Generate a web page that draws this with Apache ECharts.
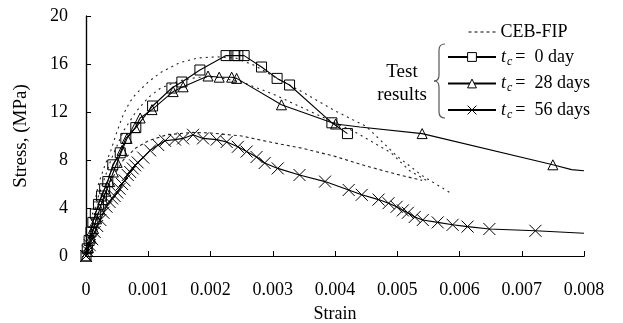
<!DOCTYPE html>
<html>
<head>
<meta charset="utf-8">
<script src="https://cdn.jsdelivr.net/npm/echarts@6/dist/echarts.min.js"></script>
<style>
  html, body { margin: 0; padding: 0; background: #fff; }
  #chart { width: 623px; height: 323px; }
</style>
</head>
<body>
<div id="chart"></div>
<script>
// Strain ticks and stress ticks
const strainTicks = [0, 0.001, 0.002, 0.003, 0.004, 0.005, 0.006, 0.007, 0.008];
const stressTicks = [0, 4, 8, 12, 16, 20];

// Test results [strain, stress (MPa)]
const day0 = [
  [0, 0], [0.00002, 0.6], [0.00005, 1.3], [0.00008, 2.0], [0.00011, 2.8], [0.00015, 3.5],
  [0.0002, 4.3], [0.00025, 5.0], [0.0003, 5.6], [0.00035, 6.2], [0.00043, 7.6], [0.00055, 8.6],
  [0.00064, 9.8], [0.0008, 10.7], [0.00107, 12.5], [0.00138, 14.0], [0.00154, 14.5],
  [0.00183, 15.5], [0.00225, 16.7], [0.00239, 16.7], [0.00244, 16.7], [0.00254, 16.7],
  [0.00282, 15.75], [0.00307, 14.8], [0.00327, 14.25], [0.00395, 11.1], [0.0042, 10.2]
];
const day28 = [
  [0, 0], [0.00004, 0.7], [0.00008, 1.5], [0.00012, 2.3], [0.00017, 3.1], [0.00022, 3.9],
  [0.00027, 4.7], [0.00032, 5.4], [0.00038, 6.2], [0.00044, 7.0], [0.0005, 7.8], [0.00058, 8.8],
  [0.00066, 9.8], [0.00079, 10.7], [0.00087, 11.5], [0.00106, 12.2], [0.0014, 13.7],
  [0.00156, 14.1], [0.00196, 15.0], [0.00214, 14.9], [0.00234, 14.9], [0.00242, 14.8],
  [0.00314, 12.6], [0.00401, 11.0], [0.0054, 10.2], [0.0075, 7.6]
];
const day28Tail = [[0.0044, 10.75], [0.0078, 7.2], [0.008, 7.1]];
const day56 = [
  [0, 0], [0.00003, 0.4], [0.00006, 0.9], [0.0001, 1.4], [0.00014, 2.0], [0.00018, 2.5],
  [0.00023, 3.0], [0.00028, 3.6], [0.00033, 4.1], [0.00038, 4.5], [0.00042, 4.8], [0.00046, 5.0],
  [0.0005, 5.3], [0.00054, 5.6], [0.00058, 6.0], [0.00062, 6.3], [0.00067, 6.75], [0.00071, 7.0],
  [0.00075, 7.3], [0.00079, 7.55], [0.00083, 7.8], [0.00092, 8.2], [0.00103, 8.8], [0.00116, 9.25],
  [0.00127, 9.6], [0.00143, 9.7], [0.00156, 9.8], [0.00172, 10.1], [0.00188, 9.8], [0.0021, 9.7],
  [0.00226, 9.5], [0.00244, 9.1], [0.00258, 8.7], [0.00274, 8.25], [0.00287, 7.75], [0.00308, 7.3],
  [0.00343, 6.75], [0.00384, 6.2], [0.00422, 5.5], [0.00443, 5.1], [0.0047, 4.7], [0.00486, 4.4],
  [0.00499, 4.1], [0.00509, 3.8], [0.00517, 3.6], [0.00528, 3.25], [0.00541, 3.0], [0.00565, 2.8],
  [0.00589, 2.6], [0.00613, 2.45], [0.00648, 2.25], [0.00722, 2.1]
];
const day56Tail = [[0.008, 1.9]];

// CEB-FIP model curves
const cebDay0 = [
  [0, 0], [0.0001, 3.4], [0.0002, 6.0], [0.0003, 7.5], [0.0004, 8.8], [0.0005, 10.4],
  [0.0006, 11.8], [0.0007, 12.8], [0.0008, 13.5], [0.001, 14.5], [0.0012, 15.3], [0.0015, 16.1],
  [0.0018, 16.5], [0.0021, 16.6], [0.0024, 16.5], [0.0027, 15.9], [0.003, 15.0], [0.0035, 13.6],
  [0.004, 12.1], [0.0045, 10.8], [0.005, 8.3], [0.0054, 6.7], [0.00584, 5.3]
];
const cebDay28 = [
  [0, 0], [0.0001, 2.8], [0.0002, 5.0], [0.0004, 8.0], [0.0006, 10.4], [0.0008, 12.0],
  [0.001, 13.2], [0.0012, 14.0], [0.0015, 14.6], [0.0018, 14.9], [0.0021, 14.9], [0.0025, 14.5],
  [0.003, 13.5], [0.0035, 12.3], [0.004, 11.1], [0.0043, 10.4], [0.0049, 8.6], [0.0052, 7.1],
  [0.0055, 6.2]
];
const cebDay56 = [
  [0, 0], [0.0001, 2.0], [0.0002, 3.7], [0.0004, 6.3], [0.0006, 8.0], [0.0008, 9.0],
  [0.001, 9.6], [0.0013, 10.1], [0.0017, 10.3], [0.002, 10.25], [0.0025, 10.0], [0.003, 9.45],
  [0.0035, 8.95], [0.004, 8.3], [0.0045, 7.5], [0.005, 6.8], [0.0054, 6.3]
];

const serif = '"Liberation Serif", "Times New Roman", serif';
const crossPath = 'path://M0,0L10,10M10,0L0,10';
const hollow = { color: 'rgba(0,0,0,0)', borderColor: '#000', borderWidth: 1 };

function marked(points, tail) {
  const all = points.map((p) => ({ value: p }))
    .concat((tail || []).map((p) => ({ value: p, symbol: 'none' })));
  all.sort((a, b) => a.value[0] - b.value[0]);
  return all;
}

const chart = echarts.init(document.getElementById('chart'), null, { renderer: 'canvas' });

const testSeries = (name, data, symbol, size) => ({
  type: 'line',
  name: name,
  data: data,
  symbol: symbol,
  symbolSize: size,
  showAllSymbol: true,
  animation: false,
  lineStyle: { color: '#000', width: 1.1 },
  itemStyle: hollow,
  z: 3,
});

const cebSeries = (data, dash) => ({
  type: 'line',
  name: 'CEB-FIP',
  data: data,
  symbol: 'none',
  animation: false,
  color: '#222',
  lineStyle: { color: '#222', width: 1.1, type: dash },
  z: 2,
});

const legendRich = {
  i: { fontFamily: serif, fontStyle: 'italic', fontSize: 18, color: '#000' },
  s: { fontFamily: serif, fontStyle: 'italic', fontSize: 12, color: '#000', padding: [9, 3, 0, 1] },
  n: { fontFamily: serif, fontSize: 18, color: '#000' },
};

const braceStyle = { fill: 'none', stroke: '#555', lineWidth: 1.2 };

chart.setOption({
  animation: false,
  backgroundColor: '#fff',
  grid: { left: 86, right: 39, top: 16, bottom: 67, outerBoundsMode: 'none', containLabel: false },
  xAxis: [
    {
      type: 'value', min: 0, max: 0.008, interval: 0.001,
      name: 'Strain', nameLocation: 'middle', nameGap: 49,
      nameTextStyle: { fontFamily: serif, fontSize: 18, color: '#000' },
      axisLine: { show: true, lineStyle: { color: '#000', width: 1.2 } },
      axisTick: { show: true, inside: true, length: 5, lineStyle: { color: '#000' } },
      axisLabel: {
        margin: 25, fontFamily: serif, fontSize: 18, color: '#000',
        formatter: (v) => {
          const t = strainTicks.find((k) => Math.abs(k - v) < 1e-9);
          return String(t === undefined ? v : t);
        },
      },
      splitLine: { show: false },
    },
    {
      type: 'value', position: 'top', min: 0, max: 0.008,
      axisLine: { show: true, lineStyle: { color: '#000', width: 1.2 } },
      axisTick: { show: false }, axisLabel: { show: false }, splitLine: { show: false },
    },
  ],
  yAxis: [
    {
      type: 'value', min: stressTicks[0], max: stressTicks[stressTicks.length - 1], interval: 4,
      name: 'Stress, (MPa)', nameLocation: 'middle', nameGap: 55,
      nameTextStyle: { fontFamily: serif, fontSize: 19, color: '#000' },
      axisLine: { show: true, lineStyle: { color: '#000', width: 1.2 } },
      axisTick: { show: true, inside: true, length: 5, lineStyle: { color: '#000' } },
      axisLabel: { margin: 18, fontFamily: serif, fontSize: 18, color: '#000' },
      splitLine: { show: false },
    },
    {
      type: 'value', position: 'right', min: 0, max: 20,
      axisLine: { show: true, lineStyle: { color: '#000', width: 1.2 } },
      axisTick: { show: false }, axisLabel: { show: false }, splitLine: { show: false },
    },
  ],
  legend: [
    {
      data: ['CEB-FIP'],
      left: 463, top: 18, orient: 'vertical',
      itemWidth: 27, itemHeight: 10, itemGap: 6,
      itemStyle: { color: 'rgba(0,0,0,0)', borderWidth: 0, opacity: 0 },
      lineStyle: { color: '#000', type: [3, 3], width: 1 },
      textStyle: { fontFamily: serif, fontSize: 18, color: '#000' },
      z: 6,
    },
    {
      data: ['0 day', '28 days', '56 days'],
      left: 442, top: 43, orient: 'vertical',
      itemWidth: 48, itemHeight: 11, itemGap: 7,
      itemStyle: { color: '#fff', borderColor: '#000', borderWidth: 1 },
      textStyle: { rich: legendRich },
      formatter: (name) => '{i|t}{s|c}{n|=  ' + name + '}',
      z: 6,
    },
  ],
  graphic: [
    { type: 'rect', z: 5, shape: { x: 436, y: 8, width: 141, height: 14 }, style: { fill: '#fff' } },
    { type: 'rect', z: 5, shape: { x: 579, y: 39, width: 12, height: 81 }, style: { fill: '#fff' } },
    { type: 'bezierCurve', z: 6, shape: { x1: 445, y1: 44, x2: 439, y2: 50, cpx1: 439, cpy1: 44 }, style: braceStyle },
    { type: 'line', z: 6, shape: { x1: 439, y1: 50, x2: 439, y2: 75 }, style: braceStyle },
    { type: 'bezierCurve', z: 6, shape: { x1: 439, y1: 75, x2: 434, y2: 81, cpx1: 439, cpy1: 81 }, style: braceStyle },
    { type: 'bezierCurve', z: 6, shape: { x1: 434, y1: 81, x2: 439, y2: 87, cpx1: 439, cpy1: 81 }, style: braceStyle },
    { type: 'line', z: 6, shape: { x1: 439, y1: 87, x2: 439, y2: 112 }, style: braceStyle },
    { type: 'bezierCurve', z: 6, shape: { x1: 439, y1: 112, x2: 445, y2: 118, cpx1: 439, cpy1: 118 }, style: braceStyle },
    { type: 'text', z: 6, style: { text: 'Test', x: 402, y: 72, align: 'center', verticalAlign: 'middle', font: '19px ' + serif, fill: '#000' } },
    { type: 'text', z: 6, style: { text: 'results', x: 402, y: 95, align: 'center', verticalAlign: 'middle', font: '19px ' + serif, fill: '#000' } },
  ],
  series: [
    cebSeries(cebDay0, [2, 4]),
    cebSeries(cebDay28, [2, 4]),
    cebSeries(cebDay56, [3, 3]),
    testSeries('0 day', marked(day0), 'rect', 10),
    testSeries('28 days', marked(day28, day28Tail), 'triangle', 10),
    testSeries('56 days', marked(day56, day56Tail), crossPath, 12),
  ],
});
</script>
</body>
</html>
